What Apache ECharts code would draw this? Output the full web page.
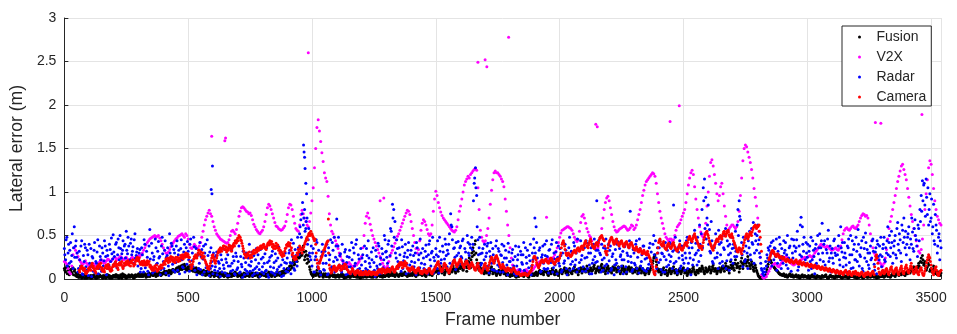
<!DOCTYPE html>
<html>
<head>
<meta charset="utf-8">
<title>Lateral error per frame</title>
<script src="https://cdn.jsdelivr.net/npm/echarts@6/dist/echarts.min.js"></script>
<style>
html, body { margin: 0; padding: 0; background: #ffffff; }
#chart { width: 957px; height: 334px; }
</style>
</head>
<body>
<div id="chart"></div>
<script>
// Lateral error (m) per sensor. Main arrays: one sample every STEP frames from frame 0.
// "B" arrays: the samples in between, at frame i * STEP + OFFSET_B.
const STEP = 5;
const OFFSET_B = 2;
const xTicks = [0, 500, 1000, 1500, 2000, 2500, 3000, 3500];
const yTicks = [0, 0.5, 1, 1.5, 2, 2.5, 3];
const seriesNames = ['Fusion', 'V2X', 'Radar', 'Camera'];

const fusion = [
.12,.08,.15,.10,.05,.11,.07,.13,.09,.04,
.03,.06,.02,.04,.01,.03,.05,.02,.01,.03,
.02,.04,.01,.03,.05,.02,.01,.03,.02,.04,
.03,.01,.02,.04,.03,.05,.02,.01,.03,.02,
.04,.02,.05,.03,.01,.02,.04,.06,.03,.02,
.01,.03,.05,.02,.04,.03,.01,.02,.04,.05,
.06,.04,.03,.05,.07,.04,.02,.05,.06,.03,
.05,.07,.04,.06,.03,.05,.08,.06,.04,.07,
.06,.09,.05,.08,.07,.10,.06,.09,.11,.08,
.10,.13,.09,.12,.15,.11,.14,.17,.12,.10,
.14,.11,.16,.13,.09,.12,.08,.11,.07,.10,
.06,.09,.05,.08,.04,.07,.10,.06,.03,.08,
.05,.03,.07,.04,.06,.02,.05,.08,.04,.03,
.06,.04,.02,.05,.07,.03,.06,.04,.08,.05,
.03,.06,.04,.02,.05,.07,.03,.05,.04,.06,
.08,.05,.03,.06,.04,.07,.05,.02,.06,.04,
.05,.07,.04,.03,.06,.08,.05,.04,.07,.05,
.03,.06,.08,.05,.04,.07,.09,.06,.10,.08,
.12,.09,.15,.18,.13,.22,.17,.26,.20,.30,
.25,.34,.28,.38,.22,.32,.18,.27,.14,.08,
.05,.03,.07,.04,.10,.06,.03,.08,.05,.02,
.04,.06,.03,.05,.02,.04,.07,.03,.05,.02,
.03,.05,.02,.04,.06,.03,.01,.04,.02,.05,
.03,.02,.04,.06,.03,.05,.02,.04,.03,.01,
.02,.04,.03,.05,.02,.03,.06,.04,.02,.03,
.05,.03,.02,.04,.06,.03,.05,.02,.04,.03,
.04,.06,.03,.05,.08,.04,.06,.03,.07,.05,
.03,.05,.07,.04,.06,.08,.05,.03,.06,.04,
.06,.04,.08,.05,.03,.07,.05,.09,.06,.04,
.07,.05,.03,.06,.09,.05,.08,.04,.06,.10,
.08,.12,.06,.10,.14,.07,.11,.05,.09,.13,
.10,.06,.12,.08,.15,.11,.07,.13,.09,.16,
.12,.18,.10,.14,.20,.09,.16,.24,.13,.30,
.36,.28,.44,.22,.15,.10,.18,.08,.12,.06,
.10,.07,.13,.05,.09,.14,.06,.11,.08,.04,
.07,.10,.05,.08,.12,.06,.09,.04,.07,.05,
.03,.06,.04,.08,.05,.02,.06,.03,.05,.04,
.06,.03,.05,.07,.04,.02,.05,.08,.04,.06,
.05,.08,.04,.07,.10,.06,.09,.05,.08,.11,
.07,.04,.09,.06,.12,.08,.05,.10,.07,.04,
.08,.11,.06,.09,.13,.07,.10,.05,.12,.08,
.06,.10,.14,.08,.11,.05,.09,.13,.07,.10,
.12,.08,.15,.10,.06,.13,.09,.11,.16,.07,
.10,.14,.08,.12,.17,.09,.13,.06,.11,.15,
.09,.12,.07,.14,.10,.16,.08,.11,.13,.06,
.10,.15,.08,.12,.06,.11,.14,.09,.13,.07,
.11,.08,.13,.06,.10,.14,.07,.12,.09,.05,
.08,.12,.06,.10,.14,.18,.24,.28,.20,.12,
.08,.11,.05,.09,.13,.06,.10,.04,.08,.12,
.06,.09,.14,.07,.11,.05,.08,.12,.06,.10,
.13,.07,.10,.04,.08,.11,.06,.09,.14,.08,
.05,.10,.07,.12,.09,.15,.11,.06,.13,.08,
.10,.14,.07,.11,.16,.09,.12,.06,.10,.13,
.08,.12,.15,.09,.18,.11,.14,.07,.20,.12,
.16,.10,.22,.13,.18,.08,.15,.24,.12,.19,
.22,.15,.26,.18,.12,.20,.14,.09,.16,.10,
.06,.03,.02,.01,.02,.04,.03,.08,.14,.20,
.22,.19,.17,.14,.12,.10,.09,.07,.06,.05,
.04,.06,.03,.05,.02,.04,.06,.03,.05,.02,
.03,.05,.02,.04,.01,.03,.05,.02,.04,.03,
.02,.04,.01,.03,.05,.02,.03,.01,.04,.02,
.03,.01,.04,.02,.03,.05,.02,.01,.03,.04,
.02,.03,.01,.04,.02,.03,.05,.02,.01,.03,
.04,.02,.03,.01,.02,.04,.03,.05,.02,.03,
.01,.03,.02,.04,.03,.01,.02,.05,.03,.02,
.04,.02,.03,.05,.02,.04,.01,.03,.02,.04,
.03,.05,.02,.04,.06,.03,.05,.02,.04,.07,
.05,.03,.06,.08,.04,.07,.05,.09,.06,.04,
.08,.06,.10,.07,.12,.09,.14,.11,.08,.13,
.18,.12,.24,.27,.16,.20,.10,.14,.22,.09,
.12,.08,.15,.06,.10,.05,.08,.04,.07
];

const fusionB = [
.10,.13,.06,.14,.08,.09,.12,.05,.11,.07,
.05,.02,.04,.03,.02,.05,.01,.04,.03,.02,
.03,.01,.04,.02,.03,.01,.04,.02,.05,.03,
.02,.04,.03,.01,.05,.02,.04,.03,.01,.04,
.03,.05,.02,.04,.03,.05,.01,.03,.05,.04,
.03,.02,.04,.03,.05,.02,.04,.05,.03,.04,
.03,.06,.05,.03,.05,.06,.04,.03,.07,.05,
.06,.04,.07,.05,.07,.04,.06,.07,.05,.06,
.08,.06,.09,.07,.10,.08,.07,.11,.09,.10,
.12,.09,.14,.11,.13,.16,.12,.15,.11,.13,
.12,.15,.10,.14,.11,.09,.13,.09,.12,.08,
.08,.06,.10,.07,.09,.05,.08,.07,.05,.06,
.07,.04,.05,.06,.03,.07,.04,.06,.05,.07,
.04,.06,.05,.03,.06,.05,.04,.07,.05,.06,
.05,.04,.06,.05,.03,.05,.06,.04,.06,.03,
.05,.07,.06,.04,.07,.05,.03,.06,.04,.07,
.06,.04,.06,.05,.04,.06,.07,.03,.05,.06,
.05,.04,.07,.06,.08,.05,.07,.08,.07,.10,
.10,.13,.11,.15,.19,.16,.20,.22,.25,.24,
.30,.27,.35,.31,.26,.28,.23,.20,.11,.06,
.04,.06,.05,.07,.06,.04,.07,.05,.04,.06,
.05,.03,.05,.04,.05,.06,.04,.04,.03,.04,
.04,.03,.04,.05,.03,.05,.03,.02,.04,.03,
.02,.04,.05,.03,.04,.03,.05,.02,.04,.03,
.03,.02,.04,.03,.04,.05,.03,.03,.04,.02,
.04,.04,.03,.05,.04,.04,.03,.04,.03,.05,
.05,.04,.06,.04,.06,.05,.04,.06,.05,.04,
.05,.06,.04,.06,.05,.06,.04,.05,.04,.06,
.05,.07,.06,.04,.06,.05,.07,.06,.05,.07,
.06,.04,.05,.08,.06,.07,.05,.07,.09,.08,
.10,.09,.08,.12,.10,.09,.08,.07,.11,.10,
.08,.10,.09,.11,.12,.09,.10,.11,.12,.13,
.15,.13,.12,.17,.14,.13,.20,.18,.22,.26,
.32,.40,.30,.18,.12,.14,.12,.10,.09,.08,
.08,.11,.09,.07,.12,.10,.08,.09,.06,.06,
.09,.07,.07,.10,.09,.08,.06,.06,.05,.04,
.05,.04,.06,.06,.03,.04,.04,.05,.04,.05,
.04,.05,.06,.05,.03,.04,.06,.06,.05,.04,
.07,.06,.06,.09,.08,.07,.07,.08,.10,.09,
.05,.07,.07,.09,.10,.06,.08,.08,.05,.06,
.10,.08,.08,.11,.10,.09,.07,.09,.10,.07,
.09,.12,.10,.10,.08,.08,.12,.10,.09,.12,
.10,.11,.12,.08,.10,.11,.10,.14,.12,.09,
.12,.11,.10,.15,.13,.11,.09,.09,.13,.12,
.11,.09,.10,.12,.13,.12,.10,.14,.09,.08,
.13,.12,.10,.09,.08,.13,.11,.12,.10,.09,
.09,.10,.11,.08,.12,.11,.09,.10,.07,.07,
.10,.09,.08,.12,.16,.21,.26,.24,.16,.10,
.10,.08,.07,.11,.09,.08,.07,.06,.10,.09,
.08,.12,.10,.09,.08,.07,.10,.09,.08,.12,
.10,.09,.07,.06,.10,.08,.08,.12,.11,.06,
.08,.09,.10,.10,.12,.13,.08,.09,.10,.09,
.12,.11,.09,.14,.12,.11,.09,.08,.12,.10,
.10,.14,.12,.13,.15,.12,.10,.13,.16,.14,
.13,.18,.17,.15,.14,.12,.20,.18,.16,.21,
.18,.20,.22,.15,.16,.17,.11,.13,.13,.08,
.04,.02,.01,.02,.03,.03,.05,.11,.17,.21,
.21,.18,.16,.13,.11,.10,.08,.06,.05,.05,
.05,.04,.04,.03,.03,.05,.04,.04,.03,.03,
.04,.03,.03,.02,.02,.04,.03,.03,.03,.02,
.03,.02,.02,.04,.03,.03,.02,.02,.03,.03,
.02,.02,.03,.03,.04,.03,.01,.02,.04,.03,
.03,.02,.02,.03,.03,.04,.03,.02,.02,.02,
.03,.03,.02,.02,.03,.03,.04,.03,.02,.02,
.02,.02,.03,.03,.02,.02,.03,.04,.02,.03,
.03,.03,.04,.03,.03,.03,.02,.02,.03,.03,
.04,.03,.03,.05,.05,.04,.04,.03,.05,.06,
.04,.05,.07,.06,.05,.06,.07,.07,.05,.06,
.07,.08,.09,.09,.10,.11,.12,.10,.10,.15,
.15,.20,.19,.22,.18,.15,.12,.18,.16,.11,
.10,.11,.12,.08,.07,.07,.06,.05
];

const v2x = [
.20,.19,.17,.12,.08,.06,.15,.28,.36,.33,
.30,.26,.22,.20,.18,.17,.19,.21,.18,.16,
.15,.14,.16,.18,.17,.15,.14,.16,.19,.21,
.22,.20,.18,.19,.21,.23,.22,.20,.21,.23,
.24,.25,.23,.22,.24,.26,.25,.23,.22,.24,
.25,.23,.21,.22,.24,.25,.23,.22,.24,.26,
.27,.26,.28,.30,.33,.36,.39,.42,.44,.46,
.47,.48,.49,.50,.48,.49,.50,.47,.44,.40,
.36,.33,.30,.29,.31,.34,.37,.40,.42,.44,
.46,.47,.49,.50,.51,.52,.50,.48,.52,.50,
.46,.40,.36,.35,.37,.40,.38,.36,.35,.38,
.42,.48,.55,.62,.68,.72,.76,.79,.75,.72,
.66,.60,.56,.52,.50,.48,.46,.45,.44,.43,
.42,.41,.42,.45,.50,.55,.56,.54,.52,.57,
.64,.72,.78,.82,.83,.82,.80,.78,.77,.75,
.76,.73,.68,.63,.60,.57,.55,.53,.52,.54,
.56,.60,.66,.74,.82,.86,.84,.80,.75,.70,
.65,.61,.60,.58,.57,.56,.57,.59,.61,.66,
.74,.82,.86,.85,.80,.72,.64,.58,.56,.55,
.62,.74,.79,.75,.70,.66,.62,.60,.66,.76,
.90,1.05,1.28,1.50,1.74,1.83,1.70,1.58,1.45,1.35,
1.22,1.16,1.12,.95,.75,.62,.55,.52,.48,.44,
.40,.35,.30,.26,.22,.20,.18,.17,.16,.18,
.19,.17,.15,.14,.15,.17,.16,.18,.20,.23,
.26,.36,.50,.64,.72,.76,.70,.63,.56,.50,
.46,.42,.38,.34,.30,.26,.22,.18,.15,.13,
.12,.15,.20,.26,.30,.33,.37,.41,.45,.49,
.52,.56,.60,.64,.68,.72,.76,.79,.78,.74,
.66,.58,.50,.42,.35,.30,.34,.44,.56,.64,
.68,.66,.62,.57,.52,.50,.52,.62,.78,.92,
1.01,.96,.88,.82,.77,.73,.70,.68,.66,.64,
.62,.60,.58,.56,.55,.54,.56,.60,.68,.78,
.84,.92,1.00,1.08,1.12,1.15,1.18,1.16,1.20,1.22,
1.24,1.26,1.27,1.25,1.05,.80,.56,.48,.44,.42,
.44,.50,.58,.70,.86,1.02,1.14,1.22,1.24,1.22,
1.22,1.20,1.18,1.15,1.12,1.06,.92,.78,.62,.50,
.36,.24,.16,.12,.10,.09,.10,.11,.10,.09,
.08,.09,.10,.11,.09,.08,.07,.09,.10,.12,
.14,.16,.18,.19,.20,.21,.20,.19,.21,.22,
.23,.24,.22,.21,.23,.25,.28,.32,.36,.42,
.48,.53,.56,.57,.58,.59,.60,.60,.59,.58,
.56,.52,.48,.45,.43,.45,.55,.65,.72,.74,
.70,.64,.58,.54,.50,.48,.44,.40,.37,.35,
.34,.36,.40,.48,.58,.70,.80,.88,.93,.95,
.90,.82,.74,.66,.60,.56,.54,.55,.57,.58,
.59,.60,.61,.60,.58,.56,.57,.59,.62,.61,
.57,.59,.62,.68,.74,.80,.88,.96,1.02,1.08,
1.12,1.14,1.16,1.18,1.20,1.22,1.21,1.18,1.10,.98,
.88,.78,.70,.64,.58,.52,.48,.46,.44,.46,
.46,.44,.45,.50,.56,.60,.62,.64,.68,.72,
.76,.80,.88,.98,1.08,1.16,1.22,1.25,1.20,1.06,
.92,.80,.70,.60,.54,.50,.48,.52,.64,.84,
1.00,1.18,1.34,1.37,1.30,1.20,1.10,.98,.90,.96,
1.06,1.10,.98,.84,.72,.62,.56,.58,.60,.62,
.62,.60,.58,.60,.66,.78,.96,1.16,1.36,1.50,
1.54,1.52,1.46,1.40,1.34,1.26,1.16,1.04,.94,.84,
.70,.55,.25,.05,.02,.01,.02,.03,.06,.09,
.12,.14,.16,.17,.18,.17,.15,.14,.16,.18,
.20,.23,.25,.26,.24,.22,.20,.18,.17,.16,
.17,.18,.19,.20,.21,.22,.23,.24,.25,.24,
.25,.26,.27,.26,.25,.27,.30,.32,.34,.36,
.38,.40,.39,.38,.37,.36,.38,.37,.35,.34,
.33,.34,.35,.36,.34,.33,.35,.38,.45,.52,
.56,.58,.59,.57,.56,.58,.60,.61,.59,.58,
.60,.62,.66,.70,.73,.75,.74,.72,.73,.70,
.62,.52,.44,.36,.30,.27,.24,.22,.20,.18,
.16,.15,.18,.24,.34,.46,.58,.66,.72,.80,
.88,.96,1.04,1.12,1.18,1.24,1.30,1.32,1.26,1.20,
1.14,1.04,.94,.84,.74,.66,.58,.50,.44,.38,
.32,.30,.34,.46,.62,.80,.98,1.14,1.28,1.36,
1.32,1.20,1.04,.90,.80,.72,.68,.64,.62
];

const radar = [
.35,.22,.48,.30,.18,.42,.27,.12,.60,.38,
.25,.08,.32,.15,.44,.05,.20,.36,.10,.28,
.40,.14,.03,.24,.33,.07,.18,.45,.12,.26,
.09,.30,.21,.38,.05,.27,.16,.34,.47,.23,
.31,.19,.42,.28,.36,.50,.24,.33,.15,.40,
.55,.29,.38,.22,.46,.32,.18,.52,.27,.35,
.21,.34,.12,.28,.08,.40,.17,.25,.05,.57,
.14,.30,.22,.09,.36,.18,.43,.26,.11,.48,
.20,.33,.07,.27,.15,.52,.24,.38,.10,.30,
.19,.44,.28,.06,.35,.22,.13,.40,.26,.17,
.32,.09,.46,.21,.14,.37,.25,.05,.29,.18,
.11,.34,.23,.08,.40,.16,.27,.04,.12,.20,
.06,.25,.14,.31,.09,.18,.03,.22,.36,.12,
.07,.19,.28,.04,.15,.33,.10,.21,.05,.26,
.13,.38,.08,.17,.02,.24,.11,.30,.06,.16,
.09,.20,.04,.27,.12,.35,.07,.18,.03,.23,
.14,.06,.29,.10,.19,.02,.25,.08,.32,.13,
.05,.21,.11,.37,.07,.16,.28,.04,.19,.09,
.24,.12,.33,.06,.18,.41,.10,.27,.15,.36,
.52,.68,.75,.62,.80,.58,.70,.45,.30,.22,
.15,.35,.08,.26,.42,.12,.20,.05,.31,.18,
.10,.27,.40,.06,.22,.45,.14,.33,.48,.25,
.69,.38,.16,.29,.08,.21,.12,.34,.19,.06,
.25,.14,.42,.09,.30,.18,.45,.11,.23,.07,
.16,.28,.05,.20,.35,.10,.24,.14,.31,.08,
.19,.03,.26,.12,.38,.17,.07,.29,.22,.45,
.32,.18,.44,.27,.55,.86,.80,.66,.24,.35,
.14,.28,.09,.37,.21,.30,.06,.25,.42,.16,
.33,.11,.27,.19,.05,.36,.22,.13,.30,.08,
.24,.17,.39,.10,.28,.44,.15,.32,.07,.21,
.35,.12,.26,.48,.18,.09,.31,.23,.40,.14,
.29,.52,.75,.60,.20,.36,.11,.27,.43,.17,
.38,.24,.46,.13,.31,.20,.42,.27,.36,.48,
.40,1.10,1.28,.96,.45,.36,.29,.18,.35,.22,
.12,.30,.41,.07,.26,.18,.35,.10,.23,.44,
.16,.32,.08,.27,.19,.38,.12,.24,.05,.31,
.20,.09,.34,.15,.26,.04,.22,.37,.11,.28,
.17,.42,.08,.25,.33,.13,.21,.05,.30,.46,
.70,.60,.24,.14,.36,.09,.28,.18,.40,.11,
.26,.07,.34,.19,.45,.13,.23,.31,.06,.38,
.15,.27,.10,.42,.21,.33,.05,.24,.48,.17,
.30,.12,.38,.22,.08,.35,.19,.44,.27,.14,
.36,.09,.25,.41,.16,.30,.06,.22,.46,.19,
.90,.33,.13,.28,.40,.10,.24,.35,.17,.07,
.21,.38,.12,.29,.05,.34,.18,.43,.09,.26,
.15,.32,.22,.40,.08,.27,.36,.78,.19,.11,
.30,.16,.44,.25,.07,.35,.20,.12,.38,.23,
.09,.28,.17,.41,.31,.14,.50,.06,.24,.36,
.19,.45,.11,.29,.38,.08,.22,.33,.16,.42,
.26,.12,.85,.34,.20,.07,.31,.44,.15,.27,
.38,.10,.24,.48,.18,.30,.05,.36,.22,.56,
.41,.16,.33,.62,.27,.80,1.05,1.15,.94,.70,
.85,.57,.30,.44,.18,.36,.52,.25,.12,.40,
.28,.46,.15,.34,.58,.21,.38,.10,.30,.48,
.18,.36,.55,.26,.80,.90,.68,.42,.14,.32,
.22,.47,.12,.36,.28,.58,.40,.18,.52,.33,
.62,.45,.25,.12,.06,.04,.08,.15,.24,.33,
.38,.42,.30,.22,.35,.46,.18,.28,.40,.12,
.26,.44,.33,.16,.50,.24,.38,.09,.30,.45,
.20,.36,.55,.14,.28,.71,.60,.32,.18,.42,
.25,.10,.38,.48,.22,.33,.06,.40,.15,.29,
.52,.36,.64,.20,.44,.12,.30,.56,.24,.08,
.35,.18,.46,.27,.10,.38,.22,.60,.31,.14,
.42,.24,.08,.36,.19,.50,.28,.13,.40,.22,
.32,.57,.15,.26,.44,.09,.35,.53,.20,.30,
.12,.38,.24,.46,.17,.31,.06,.40,.22,.28,
.14,.35,.48,.20,.30,.60,.42,.26,.55,.18,
.38,.50,.24,.65,.33,.45,.20,.56,.70,.36,
.28,.48,.60,.22,.40,.54,.32,.68,.45,.26,
.58,.80,.96,1.13,1.08,.85,1.15,.74,.62,.98,
.70,.52,.86,.40,.62,.30,.48,.22,.36
];

const radarB = [
.28,.45,.15,.40,.33,.20,.52,.36,.25,.44,
.30,.12,.22,.38,.06,.27,.40,.14,.33,.04,
.18,.35,.26,.09,.42,.20,.31,.06,.38,.22,
.36,.15,.44,.26,.33,.12,.40,.20,.29,.51,
.26,.40,.13,.46,.22,.35,.29,.44,.38,.24,
.33,.48,.20,.41,.28,.37,.45,.24,.31,.15,
.30,.08,.36,.19,.45,.13,.32,.09,.38,.23,
.41,.07,.26,.46,.17,.32,.24,.05,.38,.29,
.12,.44,.25,.36,.04,.30,.41,.17,.34,.08,
.38,.10,.33,.23,.45,.14,.31,.08,.36,.43,
.22,.40,.14,.30,.48,.10,.35,.27,.12,.42,
.26,.05,.38,.30,.13,.45,.09,.31,.36,.15,
.30,.10,.27,.05,.20,.12,.28,.08,.16,.34,
.23,.04,.15,.38,.09,.18,.26,.06,.30,.11,
.20,.07,.26,.14,.32,.05,.19,.09,.24,.40,
.15,.31,.10,.06,.22,.14,.28,.11,.34,.08,
.25,.18,.09,.36,.05,.21,.14,.27,.07,.19,
.29,.08,.24,.14,.32,.03,.22,.12,.30,.18,
.08,.30,.19,.45,.26,.12,.34,.20,.48,.28,
.60,.48,.88,.70,.55,.66,.40,.58,.26,.38,
.30,.08,.22,.45,.14,.33,.09,.26,.40,.11,
.32,.18,.05,.36,.28,.12,.42,.20,.08,.38,
.22,.48,.27,.10,.40,.17,.31,.05,.26,.14,
.33,.06,.22,.36,.15,.40,.08,.28,.12,.35,
.24,.09,.38,.12,.27,.44,.18,.06,.22,.36,
.10,.33,.15,.41,.06,.24,.35,.13,.50,.31,
.25,.40,.12,.58,.38,.70,.48,.30,.45,.20,
.36,.18,.45,.12,.26,.40,.17,.33,.08,.28,
.20,.38,.14,.30,.42,.10,.28,.46,.18,.35,
.12,.32,.26,.06,.40,.22,.30,.48,.25,.14,
.28,.44,.07,.32,.22,.38,.15,.46,.27,.33,
.40,.18,.62,.45,.35,.25,.42,.14,.30,.36,
.26,.44,.16,.35,.22,.50,.30,.40,.18,.34,
.90,1.16,1.05,.60,.28,.48,.16,.30,.12,.40,
.26,.38,.15,.32,.42,.11,.28,.20,.38,.09,
.35,.14,.28,.40,.08,.24,.33,.16,.41,.20,
.12,.30,.22,.06,.38,.15,.28,.09,.32,.19,
.28,.10,.36,.18,.06,.27,.40,.15,.22,.36,
.30,.42,.16,.33,.08,.25,.38,.12,.27,.44,
.12,.33,.22,.40,.08,.30,.16,.42,.25,.18,
.35,.08,.30,.18,.40,.12,.28,.36,.10,.32,
.20,.42,.16,.30,.46,.12,.34,.22,.09,.38,
.24,.44,.12,.30,.06,.36,.18,.40,.26,.33,
.20,.44,.30,.08,.22,.36,.15,.46,.28,.40,
.33,.10,.26,.44,.16,.22,.40,.13,.35,.28,
.22,.06,.37,.14,.30,.20,.44,.26,.09,.34,
.18,.40,.12,.32,.46,.15,.28,.38,.10,.30,
.24,.12,.36,.20,.16,.40,.28,.44,.12,.30,
.36,.22,.30,.08,.26,.42,.14,.38,.28,.20,
.40,.32,.18,.48,.10,.36,.24,.12,.38,.22,
.18,.30,.44,.12,.36,.24,.42,.16,.50,.28,
.30,.48,.20,.40,.52,.36,.90,.58,.46,.62,
.40,.32,.66,.20,.38,.24,.44,.30,.56,.18,
.42,.20,.36,.50,.12,.44,.28,.40,.22,.35,
.40,.26,.32,.62,.50,.72,.34,.28,.48,.20,
.38,.30,.44,.55,.22,.42,.65,.30,.44,.50,
.40,.30,.18,.10,.08,.12,.20,.28,.36,.20,
.30,.15,.44,.36,.26,.10,.32,.48,.22,.35,
.18,.30,.42,.28,.12,.36,.20,.46,.24,.38,
.32,.45,.10,.38,.62,.26,.40,.48,.22,.30,
.40,.32,.20,.12,.44,.26,.35,.18,.50,.36,
.22,.44,.30,.40,.16,.34,.46,.20,.38,.30,
.24,.44,.30,.08,.28,.50,.16,.36,.42,.25,
.30,.16,.38,.46,.28,.12,.44,.34,.22,.48,
.20,.40,.28,.36,.12,.48,.24,.42,.34,.16,
.30,.22,.44,.32,.10,.36,.44,.26,.38,.48,
.26,.40,.22,.36,.44,.28,.50,.36,.42,.30,
.44,.28,.58,.40,.52,.30,.62,.42,.48,.55,
.40,.52,.36,.46,.70,.35,.58,.50,.38,.62,
.44,.66,.78,.90,1.10,.72,.94,1.05,.80,.66,
.92,.60,.44,.74,.56,.38,.52,.44
];

const camera = [
null,null,null,null,null,null,null,null,null,null,
null,null,.10,.12,.15,.13,.10,.08,.07,.09,
.11,.14,.16,.13,.10,.09,.12,.15,.17,.14,
.11,.09,.10,.13,.16,.15,.12,.10,.12,.14,
.17,.18,.15,.13,.16,.19,.17,.14,.15,.18,
.20,.18,.16,.19,.21,.18,.15,.17,.22,.25,
.22,.19,.17,.20,.18,.16,.19,.21,.17,.14,
.12,.10,.13,.15,.12,.09,.11,.14,.16,.13,
.17,.20,.23,.21,.19,.24,.26,.22,.20,.23,
.25,.22,.20,.24,.27,.25,.23,.28,.30,.26,
.28,.25,.16,.14,.20,.26,.28,.24,.30,.33,
.28,.24,.30,.26,.20,.16,.12,.11,.18,.24,
.28,.22,.18,.24,.30,.34,.36,.32,.35,.38,
.34,.31,.36,.39,.35,.32,.37,.41,.44,.42,
.47,.50,.48,.44,.38,.32,.28,.25,.30,.27,
.24,.28,.31,.33,.30,.34,.36,.33,.35,.38,
.36,.40,.37,.34,.39,.42,.44,.40,.37,.35,
.38,.41,.36,.33,.30,.28,.26,.29,.32,.36,
.40,.42,.38,.33,.28,.24,.22,.26,.30,.34,
.38,.36,.30,.34,.40,.44,.48,.50,.53,.55,
.52,.48,.44,.40,.22,.14,.18,.22,.26,.30,
.34,.38,.42,.44,.16,.10,.08,.12,.15,.13,
.10,.12,.16,.14,.11,.13,.15,.17,.14,.10,
.08,.06,.09,.11,.07,.05,.08,.10,.07,.06,
.05,.07,.08,.06,.05,.07,.09,.06,.05,.08,
.06,.05,.07,.09,.11,.08,.10,.12,.09,.07,
.10,.12,.09,.08,.11,.14,.10,.08,.12,.15,
.17,.19,.16,.13,.18,.20,.15,.12,.10,.09,
.11,.14,.12,.08,.07,.10,.13,.09,.07,.06,
.08,.11,.09,.07,.10,.12,.08,.06,.09,.11,
.14,.17,.20,.15,.11,.09,.13,.18,.16,.12,
.10,.08,.12,.15,.19,.22,.18,.14,.17,.20,
.23,.19,.16,.13,.18,.21,.17,.12,.15,.19,
.16,.13,.10,.14,.18,.12,.09,.07,.11,.15,
.18,.13,.10,.16,.21,.25,.22,.18,.24,.27,
.23,.19,.15,.12,.17,.14,.11,.09,.13,.12,
.10,.08,.11,.13,.09,.07,.06,.08,.05,.04,
.06,.05,.07,.05,.04,.06,.08,.10,.16,.24,
.26,.22,.17,.13,.16,.20,.22,.19,.21,.23,
.20,.18,.21,.24,.22,.19,.17,.20,.23,.21,
.24,.30,.40,.44,.38,.30,.27,.30,.28,.26,
.28,.31,.33,.30,.34,.36,.32,.35,.38,.34,
.40,.44,.38,.36,.42,.46,.40,.37,.35,.39,
.42,.38,.45,.48,.50,.46,.44,.32,.28,.36,
.42,.45,.48,.44,.40,.43,.46,.41,.38,.42,
.44,.40,.37,.41,.43,.39,.36,.40,.42,.38,
.35,.33,.37,.34,.31,.35,.32,.29,.33,.30,
.28,.32,.27,.24,.20,.14,.08,.05,.14,.30,
.42,.46,.40,.38,.43,.36,.34,.38,.41,.37,
.35,.39,.42,.37,.34,.32,.36,.40,.35,.33,
.36,.39,.42,.38,.45,.49,.46,.43,.48,.52,
.47,.44,.40,.36,.38,.34,.42,.48,.53,.55,
.50,.44,.40,.36,.33,.38,.42,.46,.43,.48,
.50,.46,.52,.55,.49,.53,.56,.51,.48,.52,
.47,.42,.38,.34,.31,.36,.33,.29,.36,.42,
.48,.52,.46,.50,.54,.50,.57,.60,.62,.58,
.60,.62,.48,.32,null,null,null,null,null,.22,
.26,.30,.33,.31,.28,.26,.29,.27,.24,.26,
.23,.25,.22,.20,.23,.21,.19,.22,.20,.18,
.20,.22,.19,.17,.21,.18,.16,.19,.17,.15,
.18,.16,.14,.17,.15,.13,.16,.14,.12,.15,
.13,.11,.14,.12,.10,.13,.11,.09,.12,.10,
.08,.11,.09,.07,.10,.08,.06,.09,.07,.05,
.08,.10,.07,.05,.09,.06,.04,.08,.06,.09,
.05,.07,.04,.06,.08,.05,.03,.07,.05,.08,
.06,.04,.07,.09,.05,.22,.28,.18,.08,.05,
.07,.10,.06,.09,.12,.08,.05,.11,.14,.09,
.06,.10,.13,.08,.05,.11,.15,.09,.06,.12,
.16,.10,.07,.12,.18,.11,.06,.09,.14,.08,
.05,.10,.13,.07,.04,.09,.15,.22,.28,.24,
.16,.09,.05,.11,.14,.07,.04,.08,.10
];

const cameraB = [
null,null,null,null,null,null,null,null,null,null,
null,null,.08,.14,.12,.10,.12,.06,.09,.12,
.13,.10,.18,.15,.12,.07,.14,.12,.15,.18,
.13,.11,.08,.15,.12,.17,.14,.09,.10,.16,
.15,.20,.17,.11,.18,.16,.20,.12,.18,.16,
.17,.21,.18,.15,.19,.22,.17,.20,.24,.21,
.24,.17,.20,.16,.21,.19,.16,.18,.20,.16,
.14,.12,.10,.13,.16,.11,.14,.12,.13,.16,
.19,.17,.21,.24,.22,.20,.23,.25,.22,.19,
.22,.25,.23,.21,.24,.28,.26,.25,.27,.29,
.25,.20,.12,.17,.23,.24,.25,.27,.33,.29,
.31,.27,.25,.22,.18,.13,.14,.15,.21,.27,
.25,.20,.21,.27,.32,.31,.33,.35,.38,.34,
.37,.34,.33,.36,.38,.35,.39,.38,.41,.45,
.44,.48,.45,.41,.35,.29,.25,.28,.27,.31,
.27,.25,.29,.30,.33,.31,.33,.36,.38,.35,
.39,.37,.35,.37,.41,.39,.41,.43,.40,.38,
.35,.38,.39,.36,.33,.31,.29,.27,.35,.39,
.38,.39,.41,.36,.30,.26,.25,.23,.28,.31,
.35,.33,.34,.37,.42,.46,.45,.52,.50,.51,
.50,.46,.46,.30,.18,.12,.20,.24,.28,.33,
.36,.40,.43,.30,.12,.07,.10,.14,.11,.09,
.13,.15,.13,.10,.15,.12,.17,.12,.11,.08,
.07,.08,.12,.09,.06,.09,.07,.08,.05,.09,
.07,.05,.06,.09,.07,.05,.07,.08,.07,.06,
.08,.07,.05,.07,.09,.11,.07,.09,.11,.10,
.08,.10,.11,.10,.13,.12,.08,.11,.14,.12,
.15,.17,.19,.16,.15,.17,.18,.13,.12,.11,
.13,.11,.10,.10,.09,.12,.11,.07,.09,.08,
.10,.08,.07,.09,.12,.10,.07,.08,.11,.13,
.16,.19,.17,.13,.09,.11,.16,.15,.13,.10,
.07,.10,.14,.17,.21,.20,.16,.16,.19,.22,
.21,.17,.14,.16,.20,.19,.14,.14,.17,.17,
.14,.11,.12,.16,.15,.10,.08,.09,.13,.17,
.15,.11,.13,.19,.23,.24,.20,.21,.26,.25,
.21,.17,.13,.14,.15,.12,.10,.11,.10,.11,
.09,.10,.12,.11,.08,.06,.07,.06,.04,.05,
.05,.06,.06,.04,.05,.07,.09,.13,.20,.26,
.24,.19,.15,.15,.18,.21,.20,.20,.22,.21,
.19,.20,.23,.23,.20,.18,.19,.22,.22,.23,
.27,.36,.42,.41,.34,.28,.29,.29,.27,.27,
.30,.32,.31,.32,.35,.34,.33,.37,.36,.38,
.42,.41,.37,.39,.44,.43,.38,.36,.37,.41,
.40,.42,.47,.49,.48,.45,.38,.30,.32,.39,
.44,.47,.46,.42,.41,.45,.43,.40,.40,.43,
.42,.38,.39,.42,.41,.37,.38,.41,.40,.36,
.34,.35,.35,.32,.33,.33,.30,.31,.31,.29,
.30,.29,.25,.22,.17,.11,.06,.09,.22,.36,
.44,.43,.39,.41,.39,.35,.36,.40,.39,.36,
.37,.41,.39,.35,.33,.34,.38,.37,.34,.35,
.38,.41,.40,.42,.47,.47,.44,.46,.50,.49,
.45,.42,.38,.37,.36,.38,.45,.51,.54,.52,
.47,.42,.38,.35,.36,.40,.44,.45,.46,.49,
.48,.49,.54,.52,.51,.55,.54,.49,.50,.49,
.44,.40,.36,.32,.34,.35,.31,.33,.39,.45,
.50,.49,.48,.52,.52,.54,.59,.61,.60,.61,
.61,.55,.40,null,null,null,null,null,null,.24,
.28,.32,.32,.29,.27,.28,.28,.25,.25,.24,
.24,.23,.21,.22,.22,.20,.21,.21,.19,.19,
.21,.20,.18,.19,.20,.17,.18,.18,.16,.17,
.17,.15,.16,.16,.14,.15,.15,.13,.14,.14,
.12,.13,.13,.11,.12,.12,.10,.11,.11,.09,
.10,.10,.08,.09,.09,.07,.08,.08,.06,.07,
.09,.08,.06,.07,.08,.05,.06,.07,.08,.07,
.06,.05,.05,.07,.07,.04,.05,.06,.07,.06,
.05,.06,.08,.07,.14,.26,.24,.12,.06,.06,
.09,.08,.07,.11,.10,.06,.08,.13,.11,.07,
.08,.12,.10,.06,.08,.13,.12,.07,.09,.14,
.13,.08,.09,.15,.14,.08,.07,.12,.11,.06,
.08,.12,.10,.05,.06,.12,.19,.25,.26,.20,
.12,.07,.08,.13,.10,.05,.06,.09
];

// Isolated readings between the regular samples: [frame, error]
const v2xExtra = [
  [595, 1.64], [648, 1.59], [651, 1.62], [985, 2.60], [1275, 0.90], [1290, 0.93],
  [1670, 2.49], [1699, 2.52], [1706, 2.44], [1794, 2.78], [1947, 0.71],
  [2146, 1.78], [2152, 1.75], [2446, 1.81], [2483, 1.99], [3275, 1.80],
  [3297, 1.79], [3463, 1.89]
];
const radarExtra = [
  [593, 1.03], [596, 0.98], [598, 1.30], [966, 1.54], [968, 1.46], [970, 1.40],
  [972, 1.27], [975, 1.10], [978, 0.98]
];
const cameraExtra = [[1066, 0.69]];

const colors = { Fusion: '#000000', V2X: '#ff00ff', Radar: '#0000ff', Camera: '#ff0000' };
const textColor = '#262626';
const fontFamily = '"Liberation Sans", Arial, Helvetica, sans-serif';

function toPoints(values, offset) {
  const pts = [];
  values.forEach(function (v, i) {
    if (v !== null) pts.push([i * STEP + offset, v]);
  });
  return pts;
}

const seriesData = {
  Fusion: toPoints(fusion, 0).concat(toPoints(fusionB, OFFSET_B)),
  V2X: toPoints(v2x, 0).concat(v2xExtra),
  Radar: toPoints(radar, 0).concat(toPoints(radarB, OFFSET_B), radarExtra),
  Camera: toPoints(camera, 0).concat(toPoints(cameraB, OFFSET_B), cameraExtra)
};

const chart = echarts.init(document.getElementById('chart'), null, { renderer: 'canvas' });

chart.setOption({
  animation: false,
  backgroundColor: '#ffffff',
  textStyle: { fontFamily: fontFamily },
  grid: { left: 61, right: 16, top: 18, bottom: 51, containLabel: false },
  legend: {
    data: seriesNames,
    orient: 'vertical',
    left: 842,
    top: 26,
    padding: [4, 5, 2, 16],
    itemGap: 6,
    itemWidth: 24,
    itemHeight: 3,
    icon: 'circle',
    backgroundColor: '#ffffff',
    borderColor: textColor,
    borderWidth: 1,
    borderRadius: 0,
    selectedMode: false,
    textStyle: { color: textColor, fontSize: 14, lineHeight: 14, fontFamily: fontFamily }
  },
  xAxis: {
    type: 'value',
    min: xTicks[0],
    max: 3540,
    interval: 500,
    name: 'Frame number',
    nameLocation: 'middle',
    nameGap: 32,
    nameTextStyle: { color: textColor, fontSize: 17.6, fontFamily: fontFamily },
    axisLine: { show: true, onZero: false, lineStyle: { color: textColor, width: 1 } },
    axisTick: { show: true, inside: true, length: 4, lineStyle: { color: textColor } },
    axisLabel: {
      color: textColor, fontSize: 14, margin: 12, fontFamily: fontFamily,
      formatter: function (v) { return xTicks.indexOf(v) >= 0 ? String(v) : ''; }
    },
    splitLine: { show: true, lineStyle: { color: '#e4e4e4', width: 1 } }
  },
  yAxis: {
    type: 'value',
    min: yTicks[0],
    max: yTicks[yTicks.length - 1],
    interval: 0.5,
    name: 'Lateral error (m)',
    nameLocation: 'middle',
    nameGap: 28,
    nameTextStyle: { color: textColor, fontSize: 17.6, fontFamily: fontFamily },
    axisLine: { show: true, onZero: false, lineStyle: { color: textColor, width: 1 } },
    axisTick: { show: true, inside: true, length: 4, lineStyle: { color: textColor } },
    axisLabel: {
      color: textColor, fontSize: 14, margin: 8, fontFamily: fontFamily,
      formatter: function (v) { return String(v); }
    },
    splitLine: { show: true, lineStyle: { color: '#e4e4e4', width: 1 } }
  },
  series: seriesNames.map(function (name) {
    return {
      name: name,
      type: 'scatter',
      data: seriesData[name],
      symbol: 'circle',
      symbolSize: 3,
      silent: true,
      itemStyle: { color: colors[name], opacity: 1 },
      emphasis: { disabled: true }
    };
  })
});
</script>
</body>
</html>
